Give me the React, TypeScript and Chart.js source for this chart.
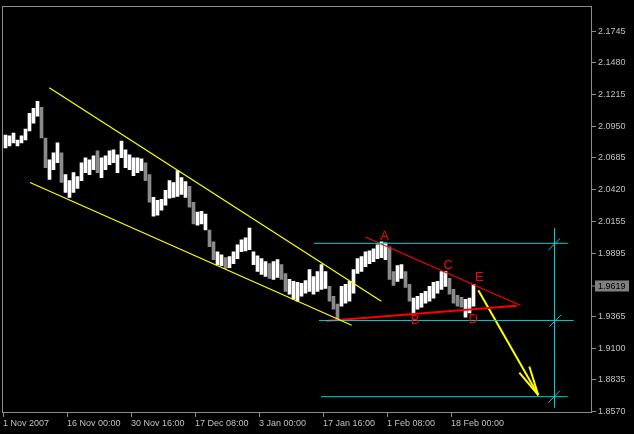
import React, { useEffect, useRef } from "react";
import { Chart, registerables } from "chart.js";

Chart.register(...registerables);

// ---- price bars (each bar aggregates a short run of H4 bars) ----
const barHigh = [
  2.0877, 2.0869, 2.0893, 2.0835, 2.0869, 2.0926, 2.1059, 2.1100, 2.1158, 2.1108,
  2.0852, 2.0670, 2.0728, 2.0811, 2.0728, 2.0546, 2.0496, 2.0563, 2.0530, 2.0645,
  2.0687, 2.0670, 2.0703, 2.0745, 2.0687, 2.0703, 2.0745, 2.0753, 2.0711, 2.0827,
  2.0753, 2.0711, 2.0687, 2.0687, 2.0678, 2.0645, 2.0546, 2.0356, 2.0331, 2.0339,
  2.0414, 2.0496, 2.0480, 2.0579, 2.0521, 2.0488, 2.0447, 2.0315, 2.0232, 2.0240,
  2.0215, 2.0083, 1.9984, 1.9901, 1.9876, 1.9852, 1.9860, 1.9901, 1.9959, 2.0000,
  2.0017, 2.0100, 1.9901, 1.9868, 1.9843, 1.9818, 1.9802, 1.9818, 1.9835, 1.9794,
  1.9719, 1.9670, 1.9653, 1.9645, 1.9637, 1.9661, 1.9752, 1.9694, 1.9736, 1.9794,
  1.9736, 1.9612, 1.9529, 1.9463, 1.9612, 1.9628, 1.9653, 1.9752, 1.9843, 1.9860,
  1.9901, 1.9909, 1.9926, 1.9959, 1.9984, 1.9976, 1.9943, 1.9736, 1.9785, 1.9794,
  1.9736, 1.9628, 1.9513, 1.9529, 1.9554, 1.9570, 1.9612, 1.9645, 1.9653, 1.9736,
  1.9736, 1.9678, 1.9587, 1.9537, 1.9521, 1.9504, 1.9513, 1.9628,
];
const barLow = [
  2.0769, 2.0786, 2.0811, 2.0786, 2.0811, 2.0835, 2.0910, 2.0976, 2.1034, 2.0852,
  2.0604, 2.0505, 2.0587, 2.0645, 2.0480, 2.0397, 2.0356, 2.0397, 2.0430, 2.0496,
  2.0563, 2.0546, 2.0587, 2.0563, 2.0521, 2.0587, 2.0629, 2.0645, 2.0563, 2.0687,
  2.0604, 2.0587, 2.0538, 2.0563, 2.0579, 2.0496, 2.0315, 2.0199, 2.0207, 2.0248,
  2.0290, 2.0348, 2.0356, 2.0364, 2.0381, 2.0356, 2.0273, 2.0133, 2.0124, 2.0133,
  2.0083, 1.9943, 1.9835, 1.9794, 1.9785, 1.9761, 1.9769, 1.9802, 1.9843, 1.9901,
  1.9909, 1.9918, 1.9794, 1.9736, 1.9711, 1.9694, 1.9678, 1.9670, 1.9686, 1.9670,
  1.9570, 1.9546, 1.9504, 1.9488, 1.9529, 1.9554, 1.9570, 1.9546, 1.9570, 1.9587,
  1.9595, 1.9488, 1.9422, 1.9331, 1.9446, 1.9471, 1.9488, 1.9554, 1.9719, 1.9736,
  1.9777, 1.9802, 1.9818, 1.9843, 1.9852, 1.9835, 1.9670, 1.9620, 1.9653, 1.9678,
  1.9603, 1.9488, 1.9389, 1.9422, 1.9438, 1.9471, 1.9488, 1.9513, 1.9554, 1.9587,
  1.9612, 1.9546, 1.9471, 1.9446, 1.9438, 1.9355, 1.9389, 1.9446,
];
const downBars = [9, 10, 14, 23, 35, 36, 46, 47, 51, 52, 55, 66, 69, 70, 81, 82, 83, 96, 97, 100, 101, 111, 112, 113, 114];

// ---- axes ----
const xTickValues = [0, 64, 128, 192, 256, 320, 384, 448];
const xTickLabels = [
  "1 Nov 2007", "16 Nov 00:00", "30 Nov 16:00", "17 Dec 08:00",
  "3 Jan 00:00", "17 Jan 16:00", "1 Feb 08:00", "18 Feb 00:00",
];
const yTickValues = [2.1745, 2.148, 2.1215, 2.095, 2.0685, 2.042, 2.0155, 1.989, 1.936, 1.9095, 1.883, 1.8565];
const yTickLabels = ["2.1745", "2.1480", "2.1215", "2.0950", "2.0685", "2.0420", "2.0155", "1.9895", "1.9365", "1.9100", "1.8835", "1.8570"];
const currentPrice = 1.9619;
const currentPriceLabel = "1.9619";

// ---- drawn objects (time units, price) ----
const channelUpper = [{ x: 46.3, y: 2.1271 }, { x: 378.3, y: 1.9488 }];
const channelLower = [{ x: 27, y: 2.048 }, { x: 348.7, y: 1.9287 }];
const triangleUpper = [{ x: 362.3, y: 2.0025 }, { x: 517.7, y: 1.9452 }];
const triangleLower = [{ x: 323, y: 1.9322 }, { x: 513.7, y: 1.9449 }];
const levelTop = [{ x: 311, y: 1.99714 }, { x: 564.7, y: 1.99714 }];
const levelMid = [{ x: 316, y: 1.93268 }, { x: 570.7, y: 1.93268 }];
const levelBottom = [{ x: 318, y: 1.86898 }, { x: 564.7, y: 1.86898 }];
const measureLine = [{ x: 551.5, y: 2.01 }, { x: 551.5, y: 1.86 }];
const markTop = [{ x: 545.3, y: 1.9915 }, { x: 557, y: 2.0011 }];
const markMid = [{ x: 546.3, y: 1.9275 }, { x: 558, y: 1.9372 }];
const markBottom = [{ x: 545.3, y: 1.8639 }, { x: 557, y: 1.8741 }];
const arrowShaft = [{ x: 475.3, y: 1.9579 }, { x: 535.3, y: 1.8702 }];
const arrowHeadA = [{ x: 516.3, y: 1.889 }, { x: 535.3, y: 1.8702 }];
const arrowHeadB = [{ x: 526.3, y: 1.8942 }, { x: 535.3, y: 1.8702 }];

const pointLabels = ["A", "B", "C", "D", "E"];
const pointLabelX = [381.7, 412, 445.3, 470.3, 476.3];
const pointLabelY = [2.0033, 1.9328, 1.9791, 1.9333, 1.9686];

const YELLOW = "#ffff00";
const RED = "#ff0000";
const CYAN = "#00ced1";
const AXIS = "#8c8c8c";
const TEXT = "#c0c0c0";
const FONT = "'Liberation Sans', Arial, sans-serif";

function seg(data: { x: number; y: number }[], color: string, width: number) {
  return {
    type: "line" as const,
    data,
    borderColor: color,
    borderWidth: width,
    pointRadius: 0,
    pointHoverRadius: 0,
    fill: false,
    tension: 0,
    order: 0,
  };
}

const overlayPlugin = {
  id: "overlay",
  beforeDraw(chart: any) {
    const ctx = chart.ctx;
    ctx.save();
    ctx.fillStyle = "#000000";
    ctx.fillRect(0, 0, chart.width, chart.height);
    ctx.restore();
  },
  afterDatasetsDraw(chart: any) {
    const ctx = chart.ctx;
    const xs = chart.scales.x;
    const ys = chart.scales.y;
    ctx.save();
    ctx.fillStyle = RED;
    ctx.font = `13px ${FONT}`;
    ctx.textAlign = "center";
    ctx.textBaseline = "middle";
    pointLabels.forEach((t, i) => {
      ctx.fillText(t, xs.getPixelForValue(pointLabelX[i]), ys.getPixelForValue(pointLabelY[i]));
    });
    ctx.restore();
  },
  afterDraw(chart: any) {
    const ctx = chart.ctx;
    const a = chart.chartArea;
    const ys = chart.scales.y;
    ctx.save();
    ctx.strokeStyle = AXIS;
    ctx.lineWidth = 1;
    ctx.strokeRect(Math.round(a.left) - 0.5, Math.round(a.top) - 0.5, Math.round(a.right - a.left), Math.round(a.bottom - a.top));
    const py = Math.round(ys.getPixelForValue(currentPrice)) - 0.5;
    ctx.beginPath();
    ctx.moveTo(a.right, py + 0.5);
    ctx.lineTo(a.right + 4, py + 0.5);
    ctx.stroke();
    ctx.fillStyle = "#808080";
    ctx.fillRect(a.right + 3, py - 5, 34, 11);
    ctx.fillStyle = "#000000";
    ctx.font = `9px ${FONT}`;
    ctx.textAlign = "left";
    ctx.textBaseline = "middle";
    ctx.fillText(currentPriceLabel, a.right + 6, py + 1);
    ctx.restore();
  },
};

export default function App() {
  const ref = useRef<HTMLCanvasElement>(null);
  useEffect(() => {
    if (!ref.current) return;
    const bars = barHigh.map((h, i) => ({ x: 2.5 + 4 * i, y: [barLow[i], h] }));
    const colors = barHigh.map((_, i) => (downBars.includes(i) ? "#8a8a8a" : "#ffffff"));
    const chart = new Chart(ref.current, {
      type: "bar",
      data: {
        datasets: [
          {
            type: "bar",
            data: bars as any,
            backgroundColor: colors,
            borderWidth: 0,
            barThickness: 3,
            order: 10,
          } as any,
          seg(channelUpper, YELLOW, 1.2),
          seg(channelLower, YELLOW, 1.2),
          seg(levelTop, CYAN, 1),
          seg(levelMid, CYAN, 1),
          seg(levelBottom, CYAN, 1),
          seg(measureLine, CYAN, 1),
          seg(markTop, CYAN, 1),
          seg(markMid, CYAN, 1),
          seg(markBottom, CYAN, 1),
          seg(triangleUpper, RED, 1.2),
          seg(triangleLower, RED, 2),
          seg(arrowShaft, YELLOW, 2),
          seg(arrowHeadA, YELLOW, 2),
          seg(arrowHeadB, YELLOW, 2),
        ] as any,
      },
      options: {
        responsive: false,
        animation: false,
        devicePixelRatio: 1,
        events: [],
        layout: { padding: { left: 3, top: 3, right: 0, bottom: 0 } },
        plugins: { legend: { display: false }, tooltip: { enabled: false } },
        scales: {
          x: {
            type: "linear",
            min: 0,
            max: 589,
            offset: false,
            afterBuildTicks: (s: any) => {
              s.ticks = xTickValues.map((v) => ({ value: v }));
            },
            afterFit: (s: any) => {
              s.height = 21;
            },
            grid: { display: true, drawOnChartArea: false, drawTicks: true, tickLength: 4, color: AXIS, offset: false },
            border: { display: false },
            ticks: {
              autoSkip: false,
              maxRotation: 0,
              minRotation: 0,
              align: "start",
              padding: 1,
              color: TEXT,
              font: { family: FONT, size: 9 },
              callback: (_v: any, i: number) => xTickLabels[i],
            },
          },
          y: {
            type: "linear",
            position: "right",
            min: 1.85534,
            max: 2.19434,
            afterBuildTicks: (s: any) => {
              s.ticks = yTickValues.map((v) => ({ value: v }));
            },
            afterFit: (s: any) => {
              s.width = 42;
            },
            grid: { display: true, drawOnChartArea: false, drawTicks: true, tickLength: 4, color: AXIS },
            border: { display: false },
            ticks: {
              autoSkip: false,
              padding: 2,
              color: TEXT,
              font: { family: FONT, size: 9 },
              callback: (_v: any, i: number) => yTickLabels[i],
            },
          },
        },
      } as any,
      plugins: [overlayPlugin],
    });
    return () => chart.destroy();
  }, []);
  return (
    <div style={{ position: "fixed", left: 0, top: 0, width: 634, height: 434, background: "#000" }}>
      <canvas ref={ref} width={634} height={434} style={{ display: "block", width: 634, height: 434 }} />
    </div>
  );
}
